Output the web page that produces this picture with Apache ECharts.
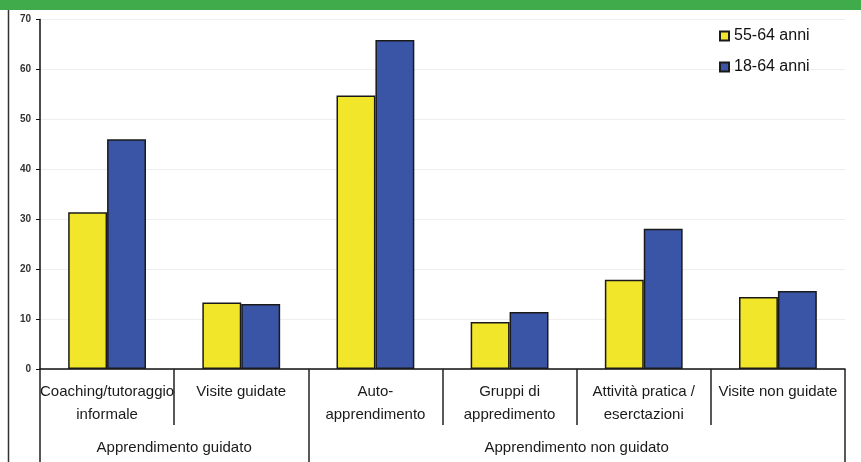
<!DOCTYPE html>
<html>
<head>
<meta charset="utf-8">
<script src="https://cdn.jsdelivr.net/npm/echarts@6/dist/echarts.min.js"></script>
<style>
  html, body { margin: 0; padding: 0; background: #fff; }
  #chart { width: 861px; height: 462px; }
</style>
</head>
<body>
<div id="chart"></div>
<script>
// data
const categories = [
  'Coaching/tutoraggio\ninformale',
  'Visite guidate',
  'Auto-\napprendimento',
  'Gruppi di\nappredimento',
  'Attività pratica /\neserctazioni',
  'Visite non guidate'
]
const groupNames = ['Apprendimento guidato', 'Apprendimento non guidato']
const groupCenters = [1, 4]     // in category units
const groupBounds = [0, 2, 6]
const seriesNames = ['55-64 anni', '18-64 anni']
const older = [31.4, 13.3, 54.8, 9.4, 17.9, 14.4]
const allAges = [46.0, 13.0, 65.9, 11.4, 28.1, 15.6]
const yTicks = [0, 10, 20, 30, 40, 50, 60, 70]

const chart = echarts.init(document.getElementById('chart'))

const barBorder = { borderColor: '#1a1a1a', borderWidth: 1.5 }

chart.setOption({
  animation: false,
  textStyle: { fontFamily: 'Liberation Sans, Arial, sans-serif' },
  graphic: [
    { type: 'rect', shape: { x: 0, y: 0, width: 861, height: 10 }, style: { fill: '#3fab4a' } },
    { type: 'line', shape: { x1: 8.5, y1: 10, x2: 8.5, y2: 462 }, style: { stroke: '#333', lineWidth: 1.5 } }
  ],
  legend: {
    orient: 'vertical',
    left: 714,
    top: 23,
    icon: 'rect',
    itemWidth: 9,
    itemHeight: 9,
    itemGap: 15,
    textStyle: { fontSize: 16, color: '#111' },
    data: seriesNames
  },
  grid: { left: 40, right: 16, top: 19.5, bottom: 93 },
  xAxis: [
    {
      type: 'category',
      data: categories,
      axisLine: { lineStyle: { color: '#111', width: 1.5 } },
      axisTick: { show: true, interval: 0, length: 56, lineStyle: { color: '#222', width: 1.5 } },
      axisLabel: { interval: 0, fontSize: 15, color: '#1a1a1a', margin: 11, lineHeight: 23 }
    },
    {
      type: 'value',
      min: 0,
      max: 6,
      position: 'bottom',
      axisLine: { show: false },
      splitLine: { show: false },
      axisTick: {
        show: true,
        customValues: groupBounds,
        length: 95,
        lineStyle: { color: '#222', width: 1.5 }
      },
      axisLabel: {
        customValues: groupCenters,
        formatter: v => groupNames[groupCenters.indexOf(v)],
        fontSize: 15,
        color: '#1a1a1a',
        margin: 71
      }
    }
  ],
  yAxis: {
    type: 'value',
    min: yTicks[0],
    max: yTicks[yTicks.length - 1],
    interval: 10,
    axisLine: { show: true, lineStyle: { color: '#111', width: 1.5 } },
    axisTick: { show: true, length: 4, lineStyle: { color: '#111' } },
    axisLabel: { fontSize: 10, color: '#333', fontWeight: 'bold', margin: 9 },
    splitLine: { lineStyle: { color: '#eeeeee' } }
  },
  series: [
    {
      name: seriesNames[0],
      type: 'bar',
      data: older,
      barGap: '0%',
      barCategoryGap: '42%',
      itemStyle: { color: '#f2e62a', ...barBorder }
    },
    {
      name: seriesNames[1],
      type: 'bar',
      data: allAges,
      itemStyle: { color: '#3a55a6', ...barBorder }
    }
  ]
})
</script>
</body>
</html>
